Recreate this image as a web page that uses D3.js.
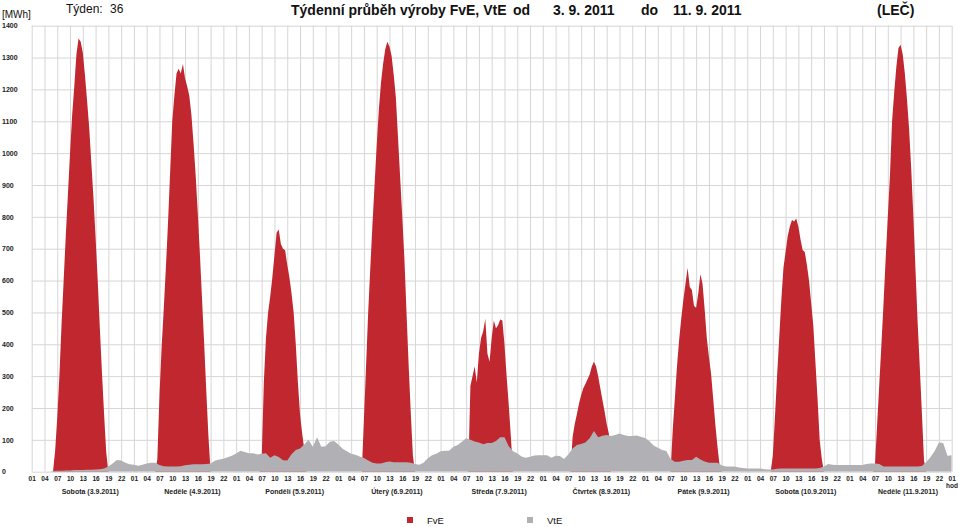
<!DOCTYPE html>
<html>
<head>
<meta charset="utf-8">
<script src="https://cdn.jsdelivr.net/npm/d3@7"></script>
<style>
  body { margin: 0; background: #fff; }
  svg { display: block; font-family: Arial, "Liberation Sans", sans-serif; }
</style>
</head>
<body>
<svg id="chart" width="959" height="527"></svg>
<script>
// FvE: half-hour values from 06:00 to 19:00 for each day (0 outside)
const fveStartHour = 6;
const fveSat3  = [0, 65, 170, 300, 460, 600, 740, 870, 1000, 1120, 1210, 1310, 1360, 1350, 1315, 1245, 1165, 1080, 970, 860, 735, 600, 450, 310, 180, 60, 0];
const fveSun4  = [0, 40, 240, 390, 510, 640, 780, 940, 1100, 1180, 1250, 1265, 1250, 1280, 1235, 1210, 1180, 1120, 1030, 930, 810, 680, 540, 400, 250, 110, 0];
const fveMon5  = [0, 0, 40, 280, 420, 500, 550, 610, 680, 750, 760, 715, 700, 695, 650, 610, 560, 500, 400, 280, 180, 120, 70, 0, 0, 0, 0];
const fveTue6  = [0, 0, 165, 330, 500, 640, 775, 900, 1025, 1135, 1220, 1280, 1325, 1350, 1335, 1305, 1245, 1175, 1050, 925, 800, 670, 500, 335, 185, 50, 0];
const fveWed7  = [0, 0, 0, 0, 270, 300, 330, 280, 370, 420, 440, 480, 370, 345, 420, 475, 450, 460, 478, 475, 400, 300, 210, 110, 0, 0, 0];
const fveThu8  = [0, 0, 0, 0, 110, 150, 180, 214, 240, 262, 275, 290, 305, 330, 345, 330, 300, 262, 225, 190, 150, 120, 0, 0, 0, 0, 0];
const fveFri9  = [0, 0, 0, 130, 230, 330, 413, 480, 540, 590, 640, 580, 570, 520, 515, 560, 620, 590, 510, 420, 360, 308, 230, 150, 80, 20, 0];
const fveSat10 = [0, 0, 50, 170, 300, 420, 540, 640, 690, 740, 770, 790, 785, 795, 770, 730, 696, 690, 650, 600, 530, 460, 345, 230, 100, 40, 0];
const fveSun11 = [0, 0, 25, 150, 275, 400, 530, 670, 800, 930, 1100, 1190, 1270, 1330, 1340, 1310, 1250, 1170, 1075, 950, 800, 635, 470, 330, 185, 35, 0];

// VtE: hourly values 00..23 for each day, then the last two hours
const vteSat3  = [0, 0, 0, 0, 0, 0, 2, 3, 3, 4, 4, 5, 5, 5, 6, 6, 7, 8, 10, 16, 26, 37, 35, 28];
const vteSun4  = [23, 22, 19, 22, 26, 28, 28, 21, 17, 16, 16, 16, 17, 20, 22, 23, 23, 23, 24, 26, 34, 38, 41, 45];
const vteMon5  = [50, 57, 66, 62, 58, 58, 54, 56, 58, 44, 52, 46, 36, 35, 55, 68, 73, 85, 100, 78, 108, 78, 80, 94];
const vteTue6  = [96, 85, 72, 64, 56, 53, 48, 43, 35, 28, 26, 26, 30, 32, 30, 30, 30, 30, 28, 24, 22, 28, 42, 52];
const vteWed7  = [56, 64, 66, 66, 78, 84, 94, 105, 100, 95, 92, 86, 90, 90, 96, 108, 108, 80, 64, 58, 48, 44, 47, 51];
const vteThu8  = [52, 52, 52, 44, 50, 49, 40, 55, 73, 84, 87, 92, 105, 128, 108, 113, 115, 112, 115, 120, 115, 112, 112, 114];
const vteFri9  = [110, 106, 96, 82, 75, 68, 65, 40, 31, 31, 34, 37, 37, 47, 38, 32, 28, 28, 28, 20, 16, 16, 16, 13];
const vteSat10 = [12, 10, 10, 10, 10, 8, 7, 7, 9, 10, 10, 10, 10, 10, 10, 10, 10, 10, 12, 16, 24, 22, 21, 21];
const vteSun11 = [21, 21, 21, 21, 21, 24, 26, 26, 24, 16, 16, 16, 16, 16, 16, 16, 16, 16, 18, 30, 45, 65, 92, 90];
const vteTail  = [50, 52];

const dayLabels = ['Sobota (3.9.2011)', 'Neděle (4.9.2011)', 'Pondělí (5.9.2011)', 'Úterý (6.9.2011)',
  'Středa (7.9.2011)', 'Čtvrtek (8.9.2011)', 'Pátek (9.9.2011)', 'Sobota (10.9.2011)', 'Neděle (11.9.2011)'];
const yTicks = d3.range(0, 1401, 100);
const hourTicks = d3.range(1, 218, 3);

const fveDays = [fveSat3, fveSun4, fveMon5, fveTue6, fveWed7, fveThu8, fveFri9, fveSat10, fveSun11];
const vteDays = [vteSat3, vteSun4, vteMon5, vteTue6, vteWed7, vteThu8, vteFri9, vteSat10, vteSun11];

// build series (t = hours since 00:00 on 3.9.)
const fve = [{ t: 0, v: 0 }];
fveDays.forEach((vals, d) => {
  vals.forEach((v, i) => fve.push({ t: d * 24 + fveStartHour + i * 0.5, v }));
});
fve.push({ t: 217, v: 0 });

const vte = vteDays.flat().concat(vteTail).map((v, i) => ({ t: i, v }));

const plot = { left: 31.7, right: 951.7, top: 25.7, bottom: 471.7 };

const svg = d3.select('#chart');

const x = d3.scaleLinear().domain([1, 217]).range([plot.left, plot.right]);
const y = d3.scaleLinear().domain([0, 1400]).range([plot.bottom, plot.top]);

svg.append('defs').append('clipPath').attr('id', 'clip')
  .append('rect')
  .attr('x', plot.left).attr('y', 0)
  .attr('width', plot.right - plot.left).attr('height', plot.bottom);

// GRIDLINES + AXES
const yAxis = svg.append('g')
  .attr('transform', `translate(${plot.left},0)`)
  .call(d3.axisLeft(y)
    .tickValues(yTicks)
    .tickSize(-(plot.right - plot.left))
    .tickPadding(4)
    .tickFormat((d) => String(d)));
yAxis.select('.domain').remove();
yAxis.selectAll('line').attr('stroke', '#d6d6d6');
yAxis.selectAll('text')
  .attr('x', 2 - plot.left)
  .attr('text-anchor', 'start')
  .attr('fill', '#222')
  .attr('font-size', 7)
  .attr('font-weight', 'bold')
  .attr('font-family', 'Arial, "Liberation Sans", sans-serif');

const xAxis = svg.append('g')
  .attr('transform', `translate(0,${plot.bottom})`)
  .call(d3.axisBottom(x)
    .tickValues(hourTicks)
    .tickSize(-(plot.bottom - plot.top))
    .tickPadding(5)
    .tickFormat((h) => String(h % 24).padStart(2, '0')));
xAxis.select('.domain').remove();
xAxis.selectAll('line').attr('stroke', '#d6d6d6');
xAxis.selectAll('text')
  .attr('fill', '#222')
  .attr('font-size', 6.5)
  .attr('font-weight', 'bold')
  .attr('font-family', 'Arial, "Liberation Sans", sans-serif');

// AREAS
const area = d3.area()
  .x((d) => x(d.t))
  .y0(y(0))
  .y1((d) => y(d.v));

const marks = svg.append('g').attr('clip-path', 'url(#clip)');

marks.append('path')
  .datum(fve)
  .attr('fill', '#c1272f')
  .attr('d', area);

marks.append('path')
  .datum(vte)
  .attr('fill', '#b1b1b5')
  .attr('d', area);

// DAY LABELS
svg.append('g')
  .selectAll('text')
  .data(dayLabels)
  .join('text')
  .attr('x', (d, i) => x(i * 24 + 14.75))
  .attr('y', 494)
  .attr('text-anchor', 'middle')
  .attr('font-size', 7)
  .attr('font-weight', 'bold')
  .attr('fill', '#222')
  .text((d) => d);

svg.append('text')
  .attr('x', 958).attr('y', 488)
  .attr('text-anchor', 'end')
  .attr('font-size', 6.5).attr('font-weight', 'bold').attr('fill', '#222')
  .text('hod');

// TITLES
svg.append('text').attr('x', 2).attr('y', 18)
  .attr('font-size', 10).attr('fill', '#111').text('[MWh]');

svg.append('text').attr('x', 66).attr('y', 13)
  .attr('font-size', 12).attr('fill', '#111').text('Týden:');
svg.append('text').attr('x', 110).attr('y', 13)
  .attr('font-size', 12).attr('fill', '#111').text('36');

const titleParts = [
  { x: 291, text: 'Týdenní průběh výroby FvE, VtE' },
  { x: 513, text: 'od' },
  { x: 553, text: '3. 9. 2011' },
  { x: 641, text: 'do' },
  { x: 673, text: '11. 9. 2011' },
  { x: 877, text: '(LEČ)' },
];
svg.append('g')
  .selectAll('text')
  .data(titleParts)
  .join('text')
  .attr('x', (d) => d.x)
  .attr('y', 15)
  .attr('font-size', 14)
  .attr('font-weight', 'bold')
  .attr('fill', '#111')
  .text((d) => d.text);

// LEGEND
const legendItems = [
  { name: 'FvE', color: '#c1272f', x: 407 },
  { name: 'VtE', color: '#b1b1b5', x: 527 },
];
const legend = svg.append('g')
  .selectAll('g')
  .data(legendItems)
  .join('g')
  .attr('transform', (d) => `translate(${d.x},517)`);
legend.append('rect').attr('width', 6).attr('height', 6).attr('fill', (d) => d.color);
legend.append('text').attr('x', 20).attr('y', 7)
  .attr('font-size', 9.5).attr('fill', '#111')
  .text((d) => d.name);
</script>
</body>
</html>
